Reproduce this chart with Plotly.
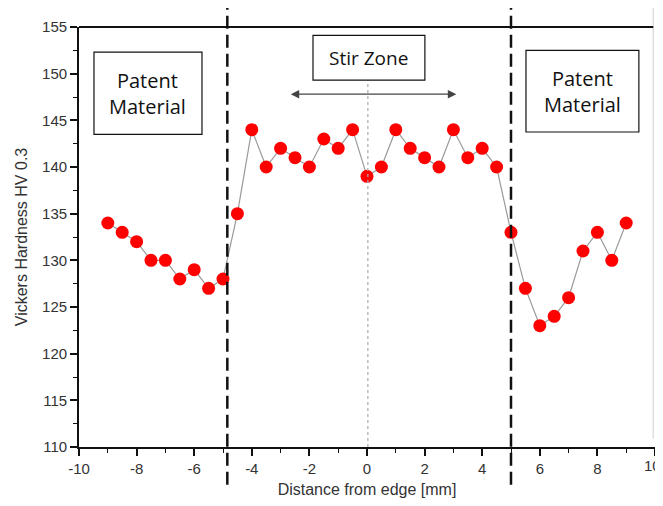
import plotly.graph_objects as go

# Data
distance_mm = [-9, -8.5, -8, -7.5, -7, -6.5, -6, -5.5, -5, -4.5, -4, -3.5, -3, -2.5, -2,
               -1.5, -1, -0.5, 0, 0.5, 1, 1.5, 2, 2.5, 3, 3.5, 4, 4.5, 5, 5.5, 6, 6.5,
               7, 7.5, 8, 8.5, 9]
hardness_hv = [134, 133, 132, 130, 130, 128, 129, 127, 128, 135, 144, 140, 142, 141, 140,
               143, 142, 144, 139, 140, 144, 142, 141, 140, 144, 141, 142, 140, 133, 127,
               123, 124, 126, 131, 133, 130, 134]
zone_boundaries = [-4.85, 5.0]
x_ticks = [-10, -8, -6, -4, -2, 0, 2, 4, 6, 8, 10]
x_tick_labels = ["-10", "-8", "-6", "-4", "-2", "0", "2", "4", "6", "8", ""]
last_x_label = "10"
y_ticks = [110, 115, 120, 125, 130, 135, 140, 145, 150, 155]

FONT = "Liberation Sans, Arial, sans-serif"
BOXFONT = "Open Sans, Calibri, sans-serif"

fig = go.Figure()
fig.add_trace(go.Scatter(
    x=distance_mm, y=hardness_hv, mode="lines+markers",
    line=dict(color="#9a9a9a", width=1.2),
    marker=dict(color="#ff0000", size=13, line=dict(width=0)),
    showlegend=False, cliponaxis=False,
))

shapes = []
for xb in zone_boundaries:
    shapes.append(dict(type="line", xref="x", yref="paper", x0=xb, x1=xb, y0=-0.09, y1=1.05,
                       line=dict(color="#111", width=2.5, dash="13px,6px")))
# centre dotted line
shapes.append(dict(type="line", xref="x", yref="y", x0=0.03, x1=0.03, y0=110, y1=149.3,
                   line=dict(color="#aaaaaa", width=1.2, dash="dot")))
# right grey frame line
shapes.append(dict(type="line", xref="paper", yref="paper", x0=0.997, x1=0.997, y0=0.02, y1=1.06,
                   line=dict(color="#dddddd", width=1.5)))
# text boxes
boxes = [(-9.48, -5.73, 143.5, 152.3), (5.52, 9.44, 143.75, 152.5), (-1.875, 2.01, 149.3, 154.1)]
for x0, x1, y0, y1 in boxes:
    shapes.append(dict(type="rect", xref="x", yref="y", x0=x0, x1=x1, y0=y0, y1=y1,
                       line=dict(color="#111", width=1.2), fillcolor="white"))

annotations = [
    dict(x=(-9.48 - 5.73) / 2, y=(143.5 + 152.3) / 2, xref="x", yref="y", text="Patent<br>Material",
         showarrow=False, font=dict(family=BOXFONT, size=20, color="#111")),
    dict(x=(5.52 + 9.44) / 2, y=(143.75 + 152.5) / 2, xref="x", yref="y", text="Patent<br>Material",
         showarrow=False, font=dict(family=BOXFONT, size=20, color="#111")),
    dict(x=(-1.875 + 2.01) / 2, y=(149.3 + 154.1) / 2, xref="x", yref="y", text="Stir Zone",
         showarrow=False, font=dict(family=BOXFONT, size=19, color="#111")),
    dict(x=3.1, y=147.8, ax=-2.7, ay=147.8, xref="x", yref="y", axref="x", ayref="y", text="",
         showarrow=True, arrowhead=2, arrowside="end+start", arrowsize=1.3, arrowwidth=1.3,
         arrowcolor="#444"),
    dict(x=x_ticks[-1], y=0, xref="x", yref="paper", text=last_x_label, showarrow=False,
         xanchor="center", yanchor="top", xshift=-3, yshift=-8,
         font=dict(family=FONT, size=15, color="#333")),
]

fig.update_layout(
    width=655, height=490,
    margin=dict(l=71, r=8, t=19, b=51),
    plot_bgcolor="white", paper_bgcolor="white",
    shapes=shapes, annotations=annotations,
    font=dict(family=FONT, color="#333"),
    xaxis=dict(range=[-10, 10], tickvals=x_ticks, ticktext=x_tick_labels,
               ticks="outside", ticklen=7, tickwidth=1.5,
               tickcolor="#111", showline=True, linecolor="#111", linewidth=1.8, mirror=False,
               showgrid=False, zeroline=False, tickfont=dict(size=15, color="#333"),
               automargin=False,
               minor=dict(dtick=1, ticks="outside", ticklen=4, tickcolor="#111", tickwidth=1.2),
               title=dict(text="Distance from edge [mm]", font=dict(size=16, color="#333"), standoff=17)),
    yaxis=dict(range=[110, 155], tickvals=y_ticks, ticks="outside", ticklen=7, tickwidth=1.5,
               tickcolor="#111", showline=True, linecolor="#111", linewidth=1.8,
               showgrid=False, zeroline=False, tickfont=dict(size=15, color="#333"),
               automargin=False,
               minor=dict(dtick=2.5, ticks="outside", ticklen=4, tickcolor="#111", tickwidth=1.2),
               title=dict(text="Vickers Hardness HV 0.3", font=dict(size=16, color="#333"), standoff=10)),
)
# top frame line
fig.add_shape(type="line", xref="paper", yref="paper", x0=0, x1=0.997, y0=1, y1=1,
              line=dict(color="#111", width=1.8))

fig.write_html("out.html")
